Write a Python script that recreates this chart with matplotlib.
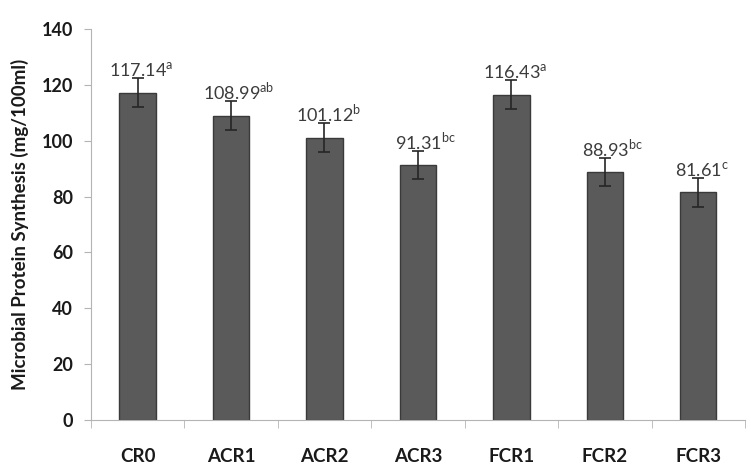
import numpy as np
import matplotlib.pyplot as plt

# data
groups = ['CR0', 'ACR1', 'ACR2', 'ACR3', 'FCR1', 'FCR2', 'FCR3']
mps = [117.14, 108.99, 101.12, 91.31, 116.43, 88.93, 81.61]
sd = [5.2, 5.3, 5.2, 5.0, 5.2, 5.0, 5.2]
letters = ['a', 'ab', 'b', 'bc', 'a', 'bc', 'c']

plt.rcParams['font.family'] = ['Lato', 'DejaVu Sans']
plt.rcParams['mathtext.fontset'] = 'custom'
plt.rcParams['mathtext.rm'] = 'Lato'

fig = plt.figure(figsize=(7.51, 4.69), dpi=100)
ax = fig.add_axes([0.121, 0.105, 0.871, 0.833])

x = np.arange(len(groups))
ax.bar(x, mps, width=0.39, color='#5a5a5a', edgecolor='#3a3a3a', linewidth=1.0,
       yerr=sd, capsize=4, error_kw=dict(ecolor='#262626', elinewidth=1.2, capthick=1.2))

for xi, v, e, l in zip(x, mps, sd, letters):
    ax.annotate(f'{v:.2f}' + r'$^{\mathrm{' + l + '}}$', (xi + 0.04 * len(l), v + e),
                xytext=(0, -1), textcoords='offset points', ha='center', va='bottom',
                fontsize=13, color='#3c3c3c')

ax.set_xlim(-0.5, len(groups) - 0.5)
ax.set_ylim(0, 140)
ax.set_yticks(range(0, 141, 20))
ax.set_xticks(x)
ax.set_xticklabels(groups)
ax.set_xticks(np.arange(-0.5, len(groups), 1), minor=True)
ax.tick_params(axis='x', which='major', length=0, pad=20, labelsize=13.5)
ax.tick_params(axis='x', which='minor', length=6, color='#b4b4b4')
ax.tick_params(axis='y', length=5, color='#b4b4b4', pad=8, labelsize=13)
for lab in ax.get_xticklabels() + ax.get_yticklabels():
    lab.set_fontweight('bold')
    lab.set_color('#1a1a1a')

ax.set_ylabel('Microbial Protein Synthesis (mg/100ml)', fontsize=13.5,
              fontweight='bold', color='#1a1a1a', labelpad=9)

for s in ['top', 'right']:
    ax.spines[s].set_visible(False)
for s in ['left', 'bottom']:
    ax.spines[s].set_color('#b4b4b4')

fig.savefig('out.png', dpi=100)
